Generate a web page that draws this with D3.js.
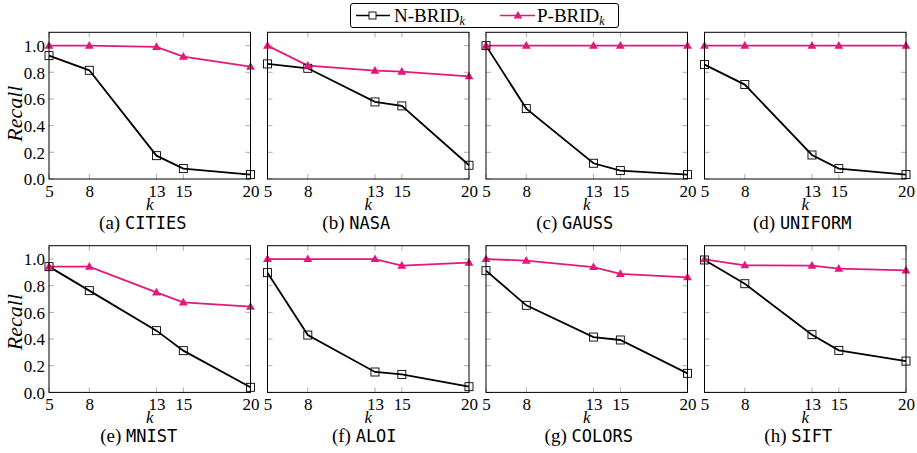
<!DOCTYPE html>
<html><head><meta charset="utf-8">
<script src="https://cdn.jsdelivr.net/npm/d3@7"></script>
<style>body{margin:0;background:#fff}svg{display:block}</style>
</head><body>
<svg id="c" width="917" height="453"></svg>
<script>
const kValues = [5, 8, 13, 15, 20];
const yTicks = [0, 0.2, 0.4, 0.6, 0.8, 1.0];
const letters = ["a","b","c","d","e","f","g","h"];
const datasets = ["CITIES","NASA","GAUSS","UNIFORM","MNIST","ALOI","COLORS","SIFT"];
const nbrid = [
  [0.925, 0.815, 0.175, 0.078, 0.033],
  [0.863, 0.830, 0.578, 0.548, 0.103],
  [1.000, 0.528, 0.118, 0.063, 0.033],
  [0.858, 0.708, 0.180, 0.078, 0.033],
  [0.943, 0.763, 0.463, 0.313, 0.038],
  [0.898, 0.430, 0.153, 0.135, 0.043],
  [0.913, 0.653, 0.415, 0.393, 0.143],
  [0.993, 0.815, 0.433, 0.315, 0.235]
];
const pbrid = [
  [1.000, 1.000, 0.990, 0.918, 0.843],
  [1.000, 0.850, 0.813, 0.805, 0.770],
  [1.000, 1.000, 1.000, 1.000, 1.000],
  [1.000, 1.000, 1.000, 1.000, 1.000],
  [0.943, 0.943, 0.750, 0.675, 0.643],
  [1.000, 1.000, 1.000, 0.950, 0.973],
  [1.000, 0.988, 0.940, 0.888, 0.863],
  [0.998, 0.953, 0.950, 0.928, 0.915]
];
const seriesNames = ["N-BRID", "P-BRID"];

const PINK = "#e4187c";
const SERIF = '"Liberation Serif", "Times New Roman", serif';
const MONO = '"DejaVu Sans Mono", "Liberation Mono", monospace';
const svg = d3.select("#c");

const W = 201.5, H = 146.7;
const lefts = [49, 267.5, 486, 704.5];
const tops = [32.3, 245.7];
// caption centre offsets relative to panel centre (layout)
const capShift = [-7, -12, -12, -3, -11, -4, 2, -7];
const recallShift = [8, 3];

const triangle = d3.symbol().type(d3.symbolTriangle).size(34);

function serif(sel, size) { return sel.style("font-family", SERIF).style("font-size", size + "px"); }

datasets.forEach((name, i) => {
  const col = i % 4, row = Math.floor(i / 4);
  const g = svg.append("g").attr("transform", `translate(${lefts[col]},${tops[row]})`);
  const x = d3.scaleLinear().domain([5, 20]).range([0, W]);
  const y = d3.scaleLinear().domain([0, 1.1]).range([H, 0]);

  const tickLen = 5;
  const yt = g.append("g");
  yTicks.forEach(t => {
    yt.append("line").attr("x1", 0).attr("x2", tickLen).attr("y1", y(t)).attr("y2", y(t)).attr("stroke", "#999").attr("stroke-width", 0.8);
    yt.append("line").attr("x1", W - tickLen).attr("x2", W).attr("y1", y(t)).attr("y2", y(t)).attr("stroke", "#999").attr("stroke-width", 0.8);
  });
  kValues.forEach(k => {
    yt.append("line").attr("x1", x(k)).attr("x2", x(k)).attr("y1", H).attr("y2", H - tickLen).attr("stroke", "#999").attr("stroke-width", 0.8);
    yt.append("line").attr("x1", x(k)).attr("x2", x(k)).attr("y1", 0).attr("y2", tickLen).attr("stroke", "#999").attr("stroke-width", 0.8);
  });

  const xAxis = g.append("g").attr("transform", `translate(0,${H})`)
    .call(d3.axisBottom(x).tickValues(kValues).tickSize(0).tickPadding(0).tickFormat(d3.format("d")));
  xAxis.attr("font-family", null).attr("font-size", null);
  xAxis.select(".domain").remove();
  serif(xAxis.selectAll("text"), 17).attr("fill", "#000").attr("dy", null).attr("y", 18);

  if (col === 0) {
    const yAxis = g.append("g")
      .call(d3.axisLeft(y).tickValues(yTicks).tickSize(0).tickPadding(4).tickFormat(d3.format(".1f")));
    yAxis.attr("font-family", null).attr("font-size", null);
    yAxis.select(".domain").remove();
    serif(yAxis.selectAll("text"), 17).attr("fill", "#000").attr("dy", "0.34em");
    serif(g.append("text"), 22).attr("transform", `translate(-27,${H/2 + recallShift[row]}) rotate(-90)`)
      .attr("text-anchor", "middle").style("font-style", "italic").text("Recall");
  }

  serif(g.append("text"), 17).attr("x", W / 2).attr("y", H + 31).attr("text-anchor", "middle")
    .style("font-style", "italic").text("k");

  const cap = g.append("text").attr("x", W / 2 + capShift[i]).attr("y", H + 50).attr("text-anchor", "middle");
  serif(cap.append("tspan"), 19).text(`(${letters[i]}) `);
  cap.append("tspan").style("font-family", MONO).style("font-size", "17px").text(name);

  const line = d3.line().x((d, j) => x(kValues[j])).y(d => y(d));

  g.append("path").datum(pbrid[i]).attr("d", line).attr("fill", "none").attr("stroke", PINK).attr("stroke-width", 1.8);
  g.append("path").datum(nbrid[i]).attr("d", line).attr("fill", "none").attr("stroke", "#000").attr("stroke-width", 1.8);

  g.selectAll(".sq").data(nbrid[i]).enter().append("rect")
    .attr("x", (d, j) => x(kValues[j]) - 4).attr("y", d => y(d) - 4)
    .attr("width", 8).attr("height", 8).attr("fill", "none").attr("stroke", "#000").attr("stroke-width", 0.9);
  g.selectAll(".tr").data(pbrid[i]).enter().append("path")
    .attr("d", triangle).attr("transform", (d, j) => `translate(${x(kValues[j])},${y(d) + 0.5})`)
    .attr("fill", PINK);

  g.append("rect").attr("x", 0).attr("y", 0).attr("width", W).attr("height", H)
    .attr("fill", "none").attr("stroke", "#000").attr("stroke-width", 1);
});

const lg = svg.append("g");
lg.append("rect").attr("x", 350.5).attr("y", 3.5).attr("width", 268).attr("height", 24).attr("rx", 2.5)
  .attr("fill", "#fff").attr("stroke", "#000").attr("stroke-width", 1);
lg.append("line").attr("x1", 356).attr("x2", 390).attr("y1", 15.5).attr("y2", 15.5).attr("stroke", "#000").attr("stroke-width", 1.3);
lg.append("rect").attr("x", 369).attr("y", 12).attr("width", 7).attr("height", 7).attr("fill", "#fff").attr("stroke", "#000").attr("stroke-width", 0.9);
const t1 = serif(lg.append("text"), 19).attr("x", 394).attr("y", 21.5);
t1.append("tspan").text(seriesNames[0]);
t1.append("tspan").style("font-style", "italic").style("font-size", "12px").attr("dy", 3).text("k");
lg.append("line").attr("x1", 500).attr("x2", 535).attr("y1", 15.5).attr("y2", 15.5).attr("stroke", PINK).attr("stroke-width", 1.3);
lg.append("path").attr("d", triangle).attr("transform", "translate(518,16)").attr("fill", PINK);
const t2 = serif(lg.append("text"), 19).attr("x", 537).attr("y", 21.5);
t2.append("tspan").text(seriesNames[1]);
t2.append("tspan").style("font-style", "italic").style("font-size", "12px").attr("dy", 3).text("k");
</script>
</body></html>
